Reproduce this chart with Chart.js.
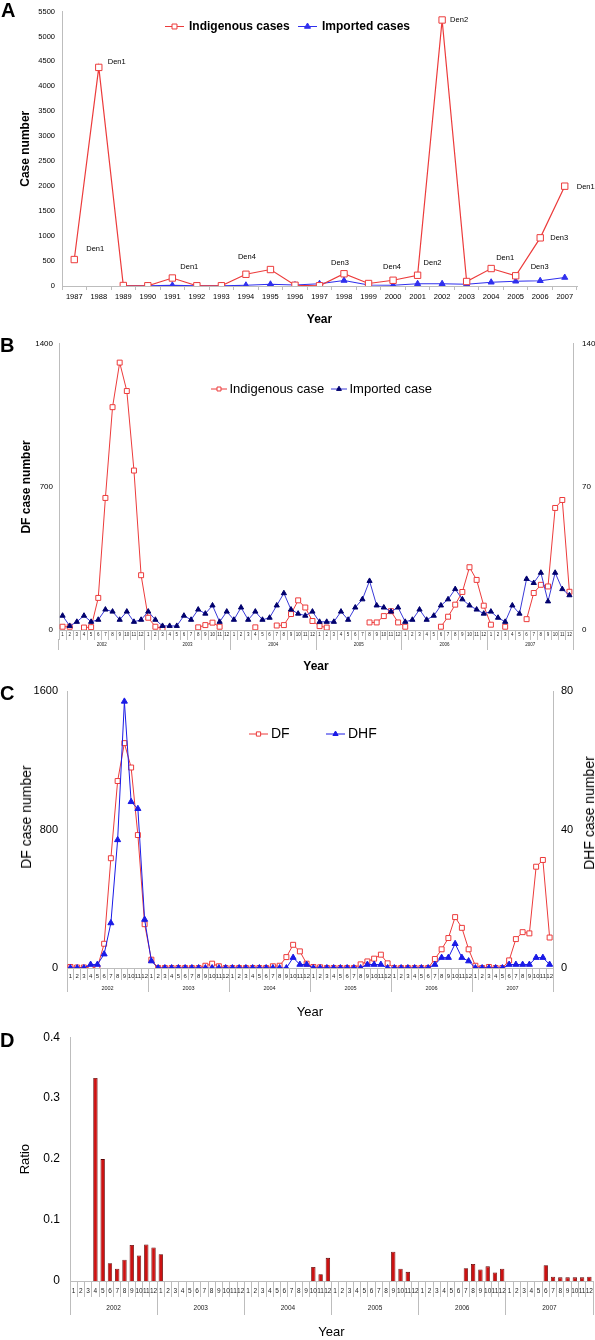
<!DOCTYPE html>
<html>
<head>
<meta charset="utf-8">
<script src="https://cdn.jsdelivr.net/npm/chart.js@4.4.0/dist/chart.umd.min.js"></script>
<style>
  body { margin: 0; background: #fff; }
  #page { position: relative; width: 595px; height: 1340px; overflow: hidden; font-family: "Liberation Sans", Arial, sans-serif; }
  canvas { position: absolute; left: 0; }
  .panel { position: absolute; font-weight: bold; font-size: 20px; line-height: 1; }
  .vtitle { position: absolute; font-size: 14px; white-space: nowrap; transform: translate(-50%, -50%) rotate(-90deg); }
</style>
</head>
<body>
<div id="page">
  <canvas id="chartA" width="595" height="330" style="top:0px"></canvas>
  <canvas id="chartB" width="595" height="345" style="top:330px"></canvas>
  <canvas id="chartC" width="595" height="345" style="top:675px"></canvas>
  <canvas id="chartD" width="595" height="320" style="top:1020px"></canvas>
  <div class="panel" style="left:1px; top:0px">A</div>
  <div class="panel" style="left:0px; top:335px">B</div>
  <div class="panel" style="left:0px; top:683px">C</div>
  <div class="panel" style="left:0px; top:1030px">D</div>
  <div class="vtitle" style="left:26px; top:817px">DF case number</div>
  <div class="vtitle" style="left:589px; top:813px">DHF case number</div>
</div>
<script>
// ---- data ----
// A: yearly cases 1987-2007
const yearsA = ['1987', '1988', '1989', '1990', '1991', '1992', '1993', '1994', '1995', '1996', '1997',
  '1998', '1999', '2000', '2001', '2002', '2003', '2004', '2005', '2006', '2007'];
const indigenousA = [530, 4380, 10, 5, 160, 5, 5, 235, 330, 15, 5, 245, 50, 115, 215, 5330, 90, 350, 205, 965, 2000];
const importedA = [null, null, 5, 5, 15, 5, 5, 15, 35, 20, 45, 110, 20, 15, 45, 45, 35, 75, 95, 105, 170];
// serotype notes shown next to the indigenous points
const denNotes = [
  { year: '1987', text: 'Den1' }, { year: '1988', text: 'Den1' }, { year: '1991', text: 'Den1' },
  { year: '1994', text: 'Den4' }, { year: '1998', text: 'Den3' }, { year: '2000', text: 'Den4' },
  { year: '2001', text: 'Den2' }, { year: '2002', text: 'Den2' }, { year: '2004', text: 'Den1' },
  { year: '2005', text: 'Den3' }, { year: '2006', text: 'Den3' }, { year: '2007', text: 'Den1' }
];
const denNoteOffsets = [[12, -11], [9, -5], [8, -11], [-8, -17], [-13, -11], [-10, -13],
  [6, -12], [8, 0], [5, -11], [15, -9], [10, 0], [12, 1]];

// B, C, D: monthly, 2002-2007
const yearLabels = ['2002', '2003', '2004', '2005', '2006', '2007'];
const monthNames = ['1', '2', '3', '4', '5', '6', '7', '8', '9', '10', '11', '12'];
const monthLabels = yearLabels.flatMap(() => monthNames);

// B: indigenous (left axis) and imported (right axis)
const indigenousB = [
  16, 16, null, 12, 14, 157, 646, 1090, 1308, 1169, 780, 268,
  60, 16, 8, null, null, null, null, 13, 24, 36, 16, null,
  null, null, null, 13, null, null, 22, 24, 78, 145, 110, 44,
  19, 12, null, null, null, null, null, 37, 37, 68, 92, 37,
  16, null, null, null, null, 16, 65, 124, 186, 307, 245, 119,
  26, null, 16, null, null, 53, 181, 221, 213, 597, 636, 187
];
const importedB = [
  7, 2, 4, 7, 4, 5, 10, 9, 5, 9, 4, 5,
  9, 5, 2, 2, 2, 7, 5, 10, 8, 12, 4, 9,
  5, 11, 5, 9, 5, 6, 12, 18, 10, 8, 7, 9,
  4, 4, 4, 9, 5, 11, 15, 24, 12, 11, 9, 11,
  4, 5, 10, 5, 7, 12, 15, 20, 15, 12, 10, 8,
  9, 6, 4, 12, 8, 25, 23, 28, 14, 28, 20, 17
];

// C: DF (left axis) and DHF (right axis)
const dfC = [
  6, 3, 3, 2, 2, 140, 634, 1080, 1299, 1158, 768, 253,
  48, 0, 0, 0, 0, 0, 0, 0, 13, 25, 10, 0,
  0, 0, 0, 0, 0, 0, 10, 13, 63, 134, 96, 25,
  6, 4, 0, 0, 0, 0, 0, 21, 38, 54, 77, 27,
  0, 0, 0, 0, 0, 0, 52, 108, 173, 294, 232, 108,
  13, 0, 6, 0, 0, 44, 167, 207, 200, 585, 624, 176
];
const dhfC = [
  0, 0, 0, 1, 1, 4, 13, 37, 77, 48, 46, 14,
  2, 0, 0, 0, 0, 0, 0, 0, 0, 0, 0, 0,
  0, 0, 0, 0, 0, 0, 0, 0, 0, 3, 1, 1,
  0, 0, 0, 0, 0, 0, 0, 0, 1, 1, 1, 0,
  0, 0, 0, 0, 0, 0, 1, 3, 3, 7, 3, 2,
  0, 0, 0, 0, 0, 1, 1, 1, 1, 3, 3, 1
];

// D: ratio
const ratioD = [
  null, null, null, 0.333, 0.2, 0.029, 0.02, 0.035, 0.059, 0.042, 0.06, 0.055,
  0.044, null, null, null, null, null, null, null, null, null, null, null,
  null, null, null, null, null, null, null, null, null, 0.023, 0.011, 0.038,
  null, null, null, null, null, null, null, null, 0.048, 0.02, 0.015, null,
  null, null, null, null, null, null, 0.021, 0.028, 0.019, 0.024, 0.014, 0.02,
  null, null, null, null, null, 0.026, 0.007, 0.006, 0.006, 0.006, 0.006, 0.007
];

// ---- styles ----
const AXIS = '#bdbdbd';
const RED = '#ec3b3b';
const BLUE_A = '#3030ee';
const BLUE_LINE = '#3a3ad8';
const NAVY = '#00006e';
const BLUE_C = '#1a1ae6';

Chart.defaults.font.family = '"Liberation Sans", Arial, sans-serif';
Chart.defaults.color = '#000';

function drawMarker(ctx, style, x, y, r, fill, stroke) {
  ctx.save();
  ctx.fillStyle = fill;
  ctx.strokeStyle = stroke;
  ctx.lineWidth = 1;
  ctx.beginPath();
  if (style === 'rect') {
    const s = r * Math.SQRT1_2;
    ctx.rect(x - s, y - s, 2 * s, 2 * s);
  } else {
    ctx.moveTo(x, y - r);
    ctx.lineTo(x + Math.sin(2 * Math.PI / 3) * r, y - Math.cos(2 * Math.PI / 3) * r);
    ctx.lineTo(x + Math.sin(4 * Math.PI / 3) * r, y - Math.cos(4 * Math.PI / 3) * r);
    ctx.closePath();
  }
  ctx.fill();
  ctx.stroke();
  ctx.restore();
}

// legend drawn inside the plot, like the original figure
const inlineLegend = {
  id: 'inlineLegend',
  afterDraw(chart, args, opts) {
    const ctx = chart.ctx;
    ctx.save();
    opts.items.forEach(item => {
      const ds = chart.data.datasets[item.dataset];
      ctx.strokeStyle = ds.borderColor;
      ctx.lineWidth = 1;
      ctx.beginPath();
      ctx.moveTo(item.x, opts.y);
      ctx.lineTo(item.x + opts.lineLength, opts.y);
      ctx.stroke();
      drawMarker(ctx, ds.pointStyle, item.x + opts.lineLength / 2, opts.y, opts.markerRadius,
        ds.pointBackgroundColor, ds.pointBorderColor);
      ctx.fillStyle = '#000';
      ctx.font = opts.font;
      ctx.textBaseline = 'middle';
      ctx.textAlign = 'left';
      ctx.fillText(ds.label, item.x + opts.lineLength + opts.gap, opts.y);
    });
    ctx.restore();
  }
};

// serotype notes for panel A
const denNotePlugin = {
  id: 'denNotes',
  afterDatasetsDraw(chart) {
    const { ctx, scales } = chart;
    ctx.save();
    ctx.font = '7.5px "Liberation Sans", Arial, sans-serif';
    ctx.fillStyle = '#000';
    ctx.textBaseline = 'middle';
    ctx.textAlign = 'left';
    denNotes.forEach((note, i) => {
      const idx = yearsA.indexOf(note.year);
      const px = scales.x.getPixelForValue(idx);
      const py = scales.y.getPixelForValue(indigenousA[idx]);
      ctx.fillText(note.text, px + denNoteOffsets[i][0], py + denNoteOffsets[i][1]);
    });
    ctx.restore();
  }
};

function fixedWidth(w) { return s => { s.width = w; }; }
function fixedHeight(h) { return s => { s.height = h; }; }

function monthAxis(tick, font, pad, h) {
  return {
    type: 'category', position: 'bottom', weight: 0, offset: true,
    grid: { display: true, drawOnChartArea: false, offset: true, tickLength: tick, color: AXIS },
    border: { color: AXIS },
    ticks: { autoSkip: false, maxRotation: 0, minRotation: 0, font: { size: font }, color: '#222', padding: pad },
    afterFit: fixedHeight(h)
  };
}
function yearAxis(tick, font, pad, h, title) {
  return {
    type: 'category', position: 'bottom', weight: 1, offset: true, labels: yearLabels,
    grid: { display: true, drawOnChartArea: false, offset: true, tickLength: tick, color: AXIS },
    border: { display: false },
    ticks: { autoSkip: false, maxRotation: 0, minRotation: 0, font: { size: font }, color: '#222', padding: pad },
    title: title,
    afterFit: fixedHeight(h)
  };
}
function valueAxis(position, max, step, font, pad, w, title) {
  return {
    position: position, min: 0, max: max,
    ticks: { stepSize: step, font: { size: font }, color: '#000', padding: pad, format: { useGrouping: false } },
    grid: { display: false, drawTicks: false },
    border: { color: AXIS },
    title: title || { display: false },
    afterFit: fixedWidth(w)
  };
}

const common = {
  responsive: false,
  animation: false,
  events: []
};

// ---- A ----
new Chart(document.getElementById('chartA'), {
  type: 'line',
  data: {
    labels: yearsA,
    datasets: [
      { label: 'Indigenous cases', data: indigenousA, borderColor: RED, borderWidth: 1.2, tension: 0,
        pointStyle: 'rect', pointRadius: 4.5, pointBackgroundColor: '#fff', pointBorderColor: RED, pointBorderWidth: 1 },
      { label: 'Imported cases', data: importedA, borderColor: BLUE_A, borderWidth: 1.2, tension: 0,
        pointStyle: 'triangle', pointRadius: 3.5, pointBackgroundColor: BLUE_A, pointBorderColor: BLUE_A, pointBorderWidth: 1 }
    ]
  },
  options: Object.assign({}, common, {
    layout: { padding: { top: 3, right: 18, bottom: 0, left: 0 } },
    plugins: {
      legend: { display: false }, tooltip: { enabled: false },
      inlineLegend: { y: 26.5, lineLength: 19, gap: 5, markerRadius: 3.5,
        font: 'bold 12px "Liberation Sans", Arial, sans-serif',
        items: [{ dataset: 0, x: 165 }, { dataset: 1, x: 298 }] }
    },
    scales: {
      x: {
        offset: true,
        grid: { display: true, drawOnChartArea: false, offset: true, tickLength: 4, color: AXIS },
        border: { color: AXIS },
        ticks: { autoSkip: false, maxRotation: 0, font: { size: 7.5 }, color: '#000', padding: 2.5 },
        title: { display: true, text: 'Year', font: { size: 12, weight: 'bold' }, padding: { top: 0, bottom: 3 } },
        afterFit: fixedHeight(44)
      },
      y: valueAxis('left', 5500, 500, 7.5, 7, 62,
        { display: true, text: 'Case number', font: { size: 12, weight: 'bold' }, padding: { top: 18, bottom: 0 } })
    }
  }),
  plugins: [inlineLegend, denNotePlugin]
});

// ---- B ----
new Chart(document.getElementById('chartB'), {
  type: 'line',
  data: {
    labels: monthLabels,
    datasets: [
      { label: 'Indigenous case', data: indigenousB, yAxisID: 'y', order: 2, borderColor: RED, borderWidth: 1, tension: 0,
        pointStyle: 'rect', pointRadius: 3.5, pointBackgroundColor: '#fff', pointBorderColor: RED, pointBorderWidth: 1 },
      { label: 'Imported case', data: importedB, yAxisID: 'y1', order: 1, borderColor: BLUE_LINE, borderWidth: 1, tension: 0,
        pointStyle: 'triangle', pointRadius: 3, pointBackgroundColor: NAVY, pointBorderColor: NAVY, pointBorderWidth: 1 }
    ]
  },
  options: Object.assign({}, common, {
    layout: { padding: { top: 11, right: 0, bottom: 0, left: 0 } },
    plugins: {
      legend: { display: false }, tooltip: { enabled: false },
      inlineLegend: { y: 59, lineLength: 16, gap: 2.5, markerRadius: 2.8,
        font: '13px "Liberation Sans", Arial, sans-serif',
        items: [{ dataset: 0, x: 211 }, { dataset: 1, x: 331 }] }
    },
    scales: {
      x: monthAxis(10, 4.5, -8.2, 9),
      x2: yearAxis(11, 4.5, -7.7, 36,
        { display: true, text: 'Year', font: { size: 12, weight: 'bold' }, padding: { top: 0, bottom: 1 } }),
      y: valueAxis('left', 1400, 700, 8, 6, 59,
        { display: true, text: 'DF case number', font: { size: 12, weight: 'bold' }, padding: { top: 19, bottom: 0 } }),
      y1: valueAxis('right', 140, 70, 8, 9, 22)
    }
  }),
  plugins: [inlineLegend]
});

// ---- C ----
new Chart(document.getElementById('chartC'), {
  type: 'line',
  data: {
    labels: monthLabels,
    datasets: [
      { label: 'DF', data: dfC, yAxisID: 'y', order: 2, borderColor: RED, borderWidth: 1, tension: 0,
        pointStyle: 'rect', pointRadius: 3.5, pointBackgroundColor: '#fff', pointBorderColor: RED, pointBorderWidth: 1 },
      { label: 'DHF', data: dhfC, yAxisID: 'y1', order: 1, borderColor: BLUE_C, borderWidth: 1, tension: 0,
        pointStyle: 'triangle', pointRadius: 3.5, pointBackgroundColor: BLUE_C, pointBorderColor: BLUE_C, pointBorderWidth: 1 }
    ]
  },
  options: Object.assign({}, common, {
    layout: { padding: { top: 16, right: 0, bottom: 0, left: 0 } },
    plugins: {
      legend: { display: false }, tooltip: { enabled: false },
      inlineLegend: { y: 59, lineLength: 19, gap: 3, markerRadius: 3,
        font: '14px "Liberation Sans", Arial, sans-serif',
        items: [{ dataset: 0, x: 249 }, { dataset: 1, x: 326 }] }
    },
    scales: {
      x: monthAxis(12, 6, -7.6, 11),
      x2: yearAxis(13, 5.5, -6.6, 41,
        { display: true, text: 'Year', font: { size: 13 }, padding: { top: 0, bottom: 0 } }),
      y: valueAxis('left', 1600, 800, 11, 9, 67),
      y1: valueAxis('right', 80, 40, 11, 8, 42)
    }
  }),
  plugins: [inlineLegend]
});

// ---- D ----
new Chart(document.getElementById('chartD'), {
  type: 'bar',
  data: {
    labels: monthLabels,
    datasets: [
      { label: 'Ratio', data: ratioD, backgroundColor: '#cc1111', borderColor: '#5a0000', borderWidth: 0.8,
        categoryPercentage: 1, barPercentage: 0.6 }
    ]
  },
  options: Object.assign({}, common, {
    layout: { padding: { top: 17, right: 2, bottom: 0, left: 0 } },
    plugins: { legend: { display: false }, tooltip: { enabled: false } },
    scales: {
      x: monthAxis(16, 6.5, -9.2, 16),
      x2: yearAxis(18, 6.5, -10.9, 43,
        { display: true, text: 'Year', font: { size: 13 }, padding: { top: 0, bottom: 0 } }),
      y: valueAxis('left', 0.4, 0.1, 12, 10, 70,
        { display: true, text: 'Ratio', font: { size: 13 }, padding: { top: 18, bottom: 0 } })
    }
  })
});
</script>
</body>
</html>
